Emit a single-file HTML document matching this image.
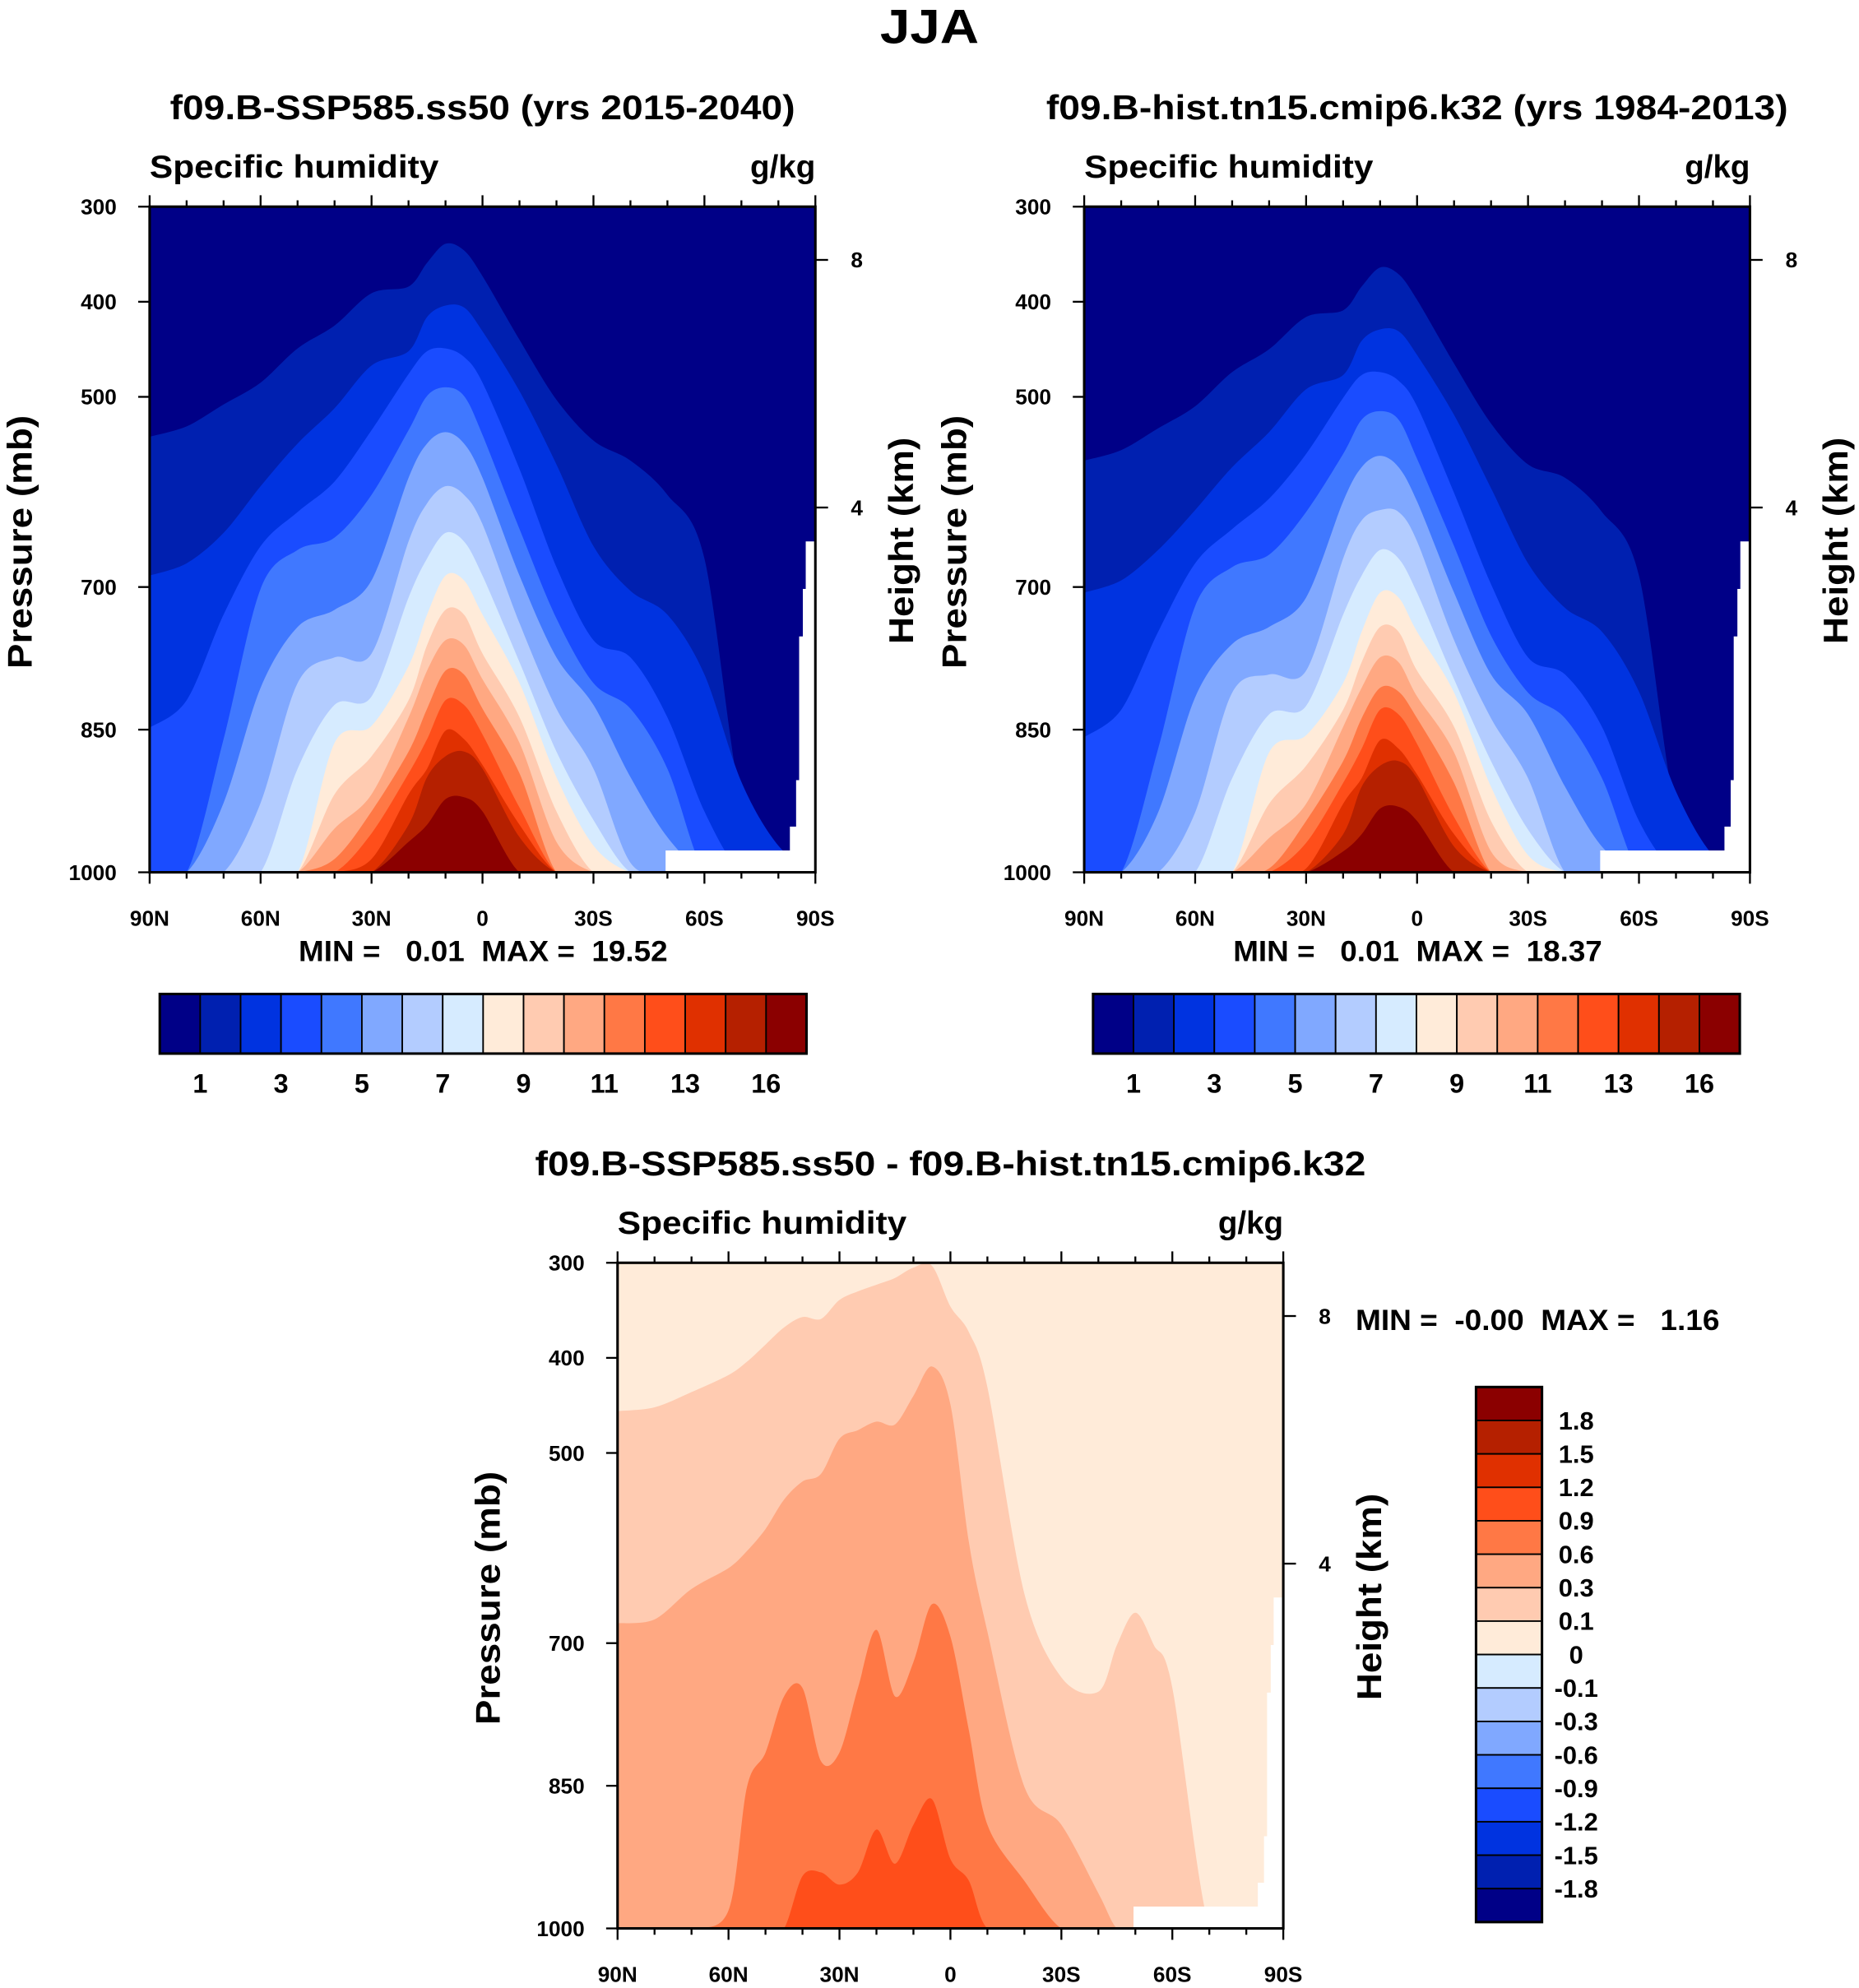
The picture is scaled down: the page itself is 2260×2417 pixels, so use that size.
<!DOCTYPE html>
<html><head><meta charset="utf-8"><style>
html,body{margin:0;padding:0;background:#fff;}
svg{display:block;}
text{font-family:"Liberation Sans",sans-serif;font-weight:bold;fill:#000;white-space:pre;}
</style></head>
<body>
<svg id="fig" width="2260" height="2417" viewBox="0 0 1466 1568" preserveAspectRatio="none" xmlns="http://www.w3.org/2000/svg">
<text x="733" y="34" font-size="38" text-anchor="middle" textLength="78" lengthAdjust="spacingAndGlyphs">JJA</text>
</svg>
<script>
// ---------- data ----------
const colorsAbs = ['#000087','#0020b0','#0033e0','#1a4cff','#4078ff','#80a8ff','#b3ccff','#d6ebff','#ffebd9','#ffcbb1','#ffa882','#ff7845','#ff4e1a','#e03000','#b52000','#8b0000'];
const absLevelLabels = ['1','3','5','7','9','11','13','16'];
const diffLevelLabels = ['1.8','1.5','1.2','0.9','0.6','0.3','0.1','0','-0.1','-0.3','-0.6','-0.9','-1.2','-1.5','-1.8'];
const latTickLabels = ['90N','60N','30N','0','30S','60S','90S'];
const latTicks = [90,60,30,0,-30,-60,-90];
const pressureTicks = [300,400,500,700,850,1000];
const heightTicks = [8,4];

const latsAbs = [90,80,70,60,50,40,30,20,15,10,5,0,-10,-20,-30,-40,-50,-60,-70,-80,-90];
// plot 1: pressure (mb) of the top of each filled level, per latitude
const p1L1 = [542,531,508,485,449,425,391,384,359,339,346,373,440,503,546,567,603,670,927,1000,1000];
const p1L2 = [688,675,643,594,549,512,467,452,416,404,406,431,494,571,657,704,729,792,905,972,1000];
const p1L3 = [848,819,729,657,621,589,535,476,452,449,458,485,576,679,756,774,837,936,1000,1000,1000];
const p1L4 = [1000,1000,860,702,661,648,603,535,499,490,499,540,639,733,801,828,891,1000,1000,1000,1000];
const p1L5 = [1000,1000,927,806,742,724,693,585,549,537,549,585,688,774,824,900,963,1000,1000,1000,1000];
const p1L6 = [1000,1000,1000,927,801,774,770,652,612,594,603,634,738,828,891,990,1000,1000,1000,1000,1000];
const p1L7 = [1000,1000,1000,1000,891,824,815,711,670,643,652,688,779,873,945,1000,1000,1000,1000,1000,1000];
const p1L8 = [1000,1000,1000,1000,1000,864,846,783,729,688,693,729,801,900,972,1000,1000,1000,1000,1000,1000];
const p1L9 = [1000,1000,1000,1000,1000,918,878,819,761,724,729,770,837,936,1000,1000,1000,1000,1000,1000,1000];
const p1L10 = [1000,1000,1000,1000,1000,954,918,837,788,756,761,797,864,968,1000,1000,1000,1000,1000,1000,1000];
const p1L11 = [1000,1000,1000,1000,1000,986,936,873,828,788,792,828,896,1000,1000,1000,1000,1000,1000,1000,1000];
const p1L12 = [1000,1000,1000,1000,1000,1000,959,896,860,819,824,855,932,1000,1000,1000,1000,1000,1000,1000,1000];
const p1L13 = [1000,1000,1000,1000,1000,1000,986,918,891,851,860,887,950,1000,1000,1000,1000,1000,1000,1000,1000];
const p1L14 = [1000,1000,1000,1000,1000,1000,1000,950,900,878,873,891,963,1000,1000,1000,1000,1000,1000,1000,1000];
const p1L15 = [1000,1000,1000,1000,1000,1000,1000,968,950,923,921,936,1000,1000,1000,1000,1000,1000,1000,1000,1000];
// plot 2
const p2L1 = [567,556,533,510,474,450,416,409,384,364,371,398,465,528,571,585,621,688,937,1000,1000];
const p2L2 = [706,693,661,619,574,537,492,477,441,429,431,456,519,596,675,722,747,810,915,982,1000];
const p2L3 = [858,829,747,675,639,607,560,501,477,474,483,510,601,697,774,792,847,946,1000,1000,1000];
const p2L4 = [1000,1000,870,720,679,666,621,560,524,515,524,565,657,751,811,838,901,1000,1000,1000,1000];
const p2L5 = [1000,1000,937,816,760,742,711,610,574,562,574,610,706,792,834,910,973,1000,1000,1000,1000];
const p2L6 = [1000,1000,1000,937,811,792,788,670,630,619,621,652,756,838,901,1000,1000,1000,1000,1000,1000];
const p2L7 = [1000,1000,1000,1000,901,834,825,729,688,661,670,706,797,883,955,1000,1000,1000,1000,1000,1000];
const p2L8 = [1000,1000,1000,1000,1000,874,856,801,747,706,711,747,811,910,982,1000,1000,1000,1000,1000,1000];
const p2L9 = [1000,1000,1000,1000,1000,928,888,829,779,742,747,788,847,946,1000,1000,1000,1000,1000,1000,1000];
const p2L10 = [1000,1000,1000,1000,1000,964,928,847,806,774,779,815,874,978,1000,1000,1000,1000,1000,1000,1000];
const p2L11 = [1000,1000,1000,1000,1000,996,946,883,838,806,810,838,906,1000,1000,1000,1000,1000,1000,1000,1000];
const p2L12 = [1000,1000,1000,1000,1000,1000,969,906,870,829,834,865,942,1000,1000,1000,1000,1000,1000,1000,1000];
const p2L13 = [1000,1000,1000,1000,1000,1000,996,928,901,861,870,897,960,1000,1000,1000,1000,1000,1000,1000,1000];
const p2L14 = [1000,1000,1000,1000,1000,1000,1000,960,910,888,883,901,973,1000,1000,1000,1000,1000,1000,1000,1000];
const p2L15 = [1000,1000,1000,1000,1000,1000,1000,978,960,933,931,946,1000,1000,1000,1000,1000,1000,1000,1000,1000];
// plot 3 (difference)
const latsDiff = [90,80,70,60,55,50,45,40,35,30,25,20,15,10,5,0,-5,-10,-20,-30,-40,-45,-50,-55,-60,-70,-80,-90];
const p3L01 = [456,452,436,418,404,386,368,357,359,339,330,323,316,305,303,346,373,431,648,736,751,702,668,702,747,1000,1000,1000];
const p3L03 = [679,675,643,621,603,580,549,530,522,485,476,467,470,440,409,449,594,688,851,891,963,1000,1000,1000,1000,1000,1000,1000];
const p3L06 = [1000,1000,1000,981,851,815,756,747,824,815,747,686,756,720,659,693,792,891,950,1000,1000,1000,1000,1000,1000,1000,1000,1000];
const p3L09 = [1000,1000,1000,1000,1000,1000,1000,945,941,954,941,896,932,891,864,927,950,1000,1000,1000,1000,1000,1000,1000,1000,1000,1000,1000];
// missing-data (topography) outline
const topoLat = [-49.5,-83.1,-83.1,-84.8,-84.8,-85.6,-85.6,-86.6,-86.6,-87.4,-87.4,-90];
const topoP = [977,977,952,952,903,903,752,752,702,702,652,652];

// ---------- drawing ----------
const NS='http://www.w3.org/2000/svg';
const svg=document.getElementById('fig');
function mk(tag,attrs,parent){const e=document.createElementNS(NS,tag);for(const k in attrs)e.setAttribute(k,attrs[k]);(parent||svg).appendChild(e);return e;}
function txt(s,attrs,parent){const e=mk('text',attrs,parent);e.textContent=s;return e;}
function heightToP(z){return 1013.25*Math.pow(1-2.2558e-5*z*1000,5.2559);}
function smoothPath(pts){
  let d='M'+pts[0][0].toFixed(1)+','+pts[0][1].toFixed(1);
  for(let i=0;i<pts.length-1;i++){
    const p0=pts[Math.max(i-1,0)],p1=pts[i],p2=pts[i+1],p3=pts[Math.min(i+2,pts.length-1)];
    const t=0.16;
    const c1=[p1[0]+(p2[0]-p0[0])*t,p1[1]+(p2[1]-p0[1])*t];
    const c2=[p2[0]-(p3[0]-p1[0])*t,p2[1]-(p3[1]-p1[1])*t];
    d+=' C'+c1[0].toFixed(1)+','+c1[1].toFixed(1)+' '+c2[0].toFixed(1)+','+c2[1].toFixed(1)+' '+p2[0].toFixed(1)+','+p2[1].toFixed(1);
  }
  return d;
}

function drawPlot(id,ox,oy,w,h,lats,bounds,colors,bg,titleStr,titleW){
  const X=lat=>ox+(90-lat)/180*w;
  const Y=p=>oy+(p-300)/700*h;
  const g=mk('g',{});
  
  
  const cp=mk('clipPath',{id:id+'-clip'},g);mk('rect',{x:ox,y:oy,width:w,height:h},cp);
  const area=mk('g',{'clip-path':'url(#'+id+'-clip)'},g);
  const bgr=mk('rect',{x:ox,y:oy,width:w,height:h,fill:bg},area);
  
  
  bounds.forEach((arr,k)=>{
    const pts=arr.map((p,i)=>[X(lats[i]),Y(p)]);
    const d=smoothPath(pts)+' L'+(X(-90)+2)+','+(Y(1000)+5)+' L'+(X(90)-2)+','+(Y(1000)+5)+' Z';
    const poly=mk('path',{d:d,fill:colors[k]},area);
    
    
  });
  let tp=topoLat.map((l,i)=>X(l).toFixed(1)+','+Y(topoP[i]).toFixed(1));
  tp.push(X(-90)+','+Y(1000),X(-49.5)+','+Y(1000));
  const topo=mk('polygon',{points:tp.join(' '),fill:'#fff'},area);
  
  
  const fr=mk('rect',{x:ox,y:oy,width:w,height:h,fill:'none',stroke:'#000','stroke-width':2},g);
  
  
  for(let l=90;l>=-90;l-=10){
    const major=(l%30===0);
    mk('line',{x1:X(l),x2:X(l),y1:oy+h,y2:oy+h+(major?9:5),stroke:'#000','stroke-width':1.5},g);
    mk('line',{x1:X(l),x2:X(l),y1:oy,y2:oy-(major?9:5),stroke:'#000','stroke-width':1.5},g);
  }
  latTicks.forEach((l,i)=>{
    const t=txt(latTickLabels[i],{x:X(l),y:oy+h+42,'font-size':17,'text-anchor':'middle'},g);
    
    
  });
  pressureTicks.forEach(p=>{
    mk('line',{x1:ox-9,x2:ox,y1:Y(p),y2:Y(p),stroke:'#000','stroke-width':1.5},g);
    const t=txt(String(p),{x:ox-26,y:Y(p)+6,'font-size':17,'text-anchor':'end'},g);
    
    
  });
  heightTicks.forEach(z=>{
    const yy=Y(heightToP(z));
    mk('line',{x1:ox+w,x2:ox+w+10,y1:yy,y2:yy,stroke:'#000','stroke-width':1.5},g);
    const t=txt(String(z),{x:ox+w+28,y:yy+6,'font-size':17,'text-anchor':'start'},g);
    
    
  });
  const yt=txt('Pressure (mb)',{x:0,y:0,'font-size':27,'text-anchor':'middle',transform:'translate('+(ox-93)+','+(oy+h/2+2)+') rotate(-90)',textLength:200,lengthAdjust:'spacingAndGlyphs'},g);
  
  
  const ht=txt('Height (km)',{x:0,y:0,'font-size':27,'text-anchor':'middle',transform:'translate('+(ox+w+77)+','+(oy+h/2+1)+') rotate(-90)',textLength:163,lengthAdjust:'spacingAndGlyphs'},g);
  
  
  const sh=txt('Specific humidity',{x:ox,y:oy-23,'font-size':25,textLength:228,lengthAdjust:'spacingAndGlyphs'},g);
  
  
  const un=txt('g/kg',{x:ox+w,y:oy-23,'font-size':25,'text-anchor':'end'},g);
  
  
  const ti=txt(titleStr,{x:ox+w/2,y:oy-69,'font-size':27,'text-anchor':'middle',textLength:titleW,lengthAdjust:'spacingAndGlyphs'},g);
  
  
  return g;
}

const b1=[p1L1,p1L2,p1L3,p1L4,p1L5,p1L6,p1L7,p1L8,p1L9,p1L10,p1L11,p1L12,p1L13,p1L14,p1L15];
const b2=[p2L1,p2L2,p2L3,p2L4,p2L5,p2L6,p2L7,p2L8,p2L9,p2L10,p2L11,p2L12,p2L13,p2L14,p2L15];
drawPlot('panel-ssp585',118,163,525,525,latsAbs,b1,colorsAbs.slice(1),colorsAbs[0],'f09.B-SSP585.ss50 (yrs 2015-2040)',493);
drawPlot('panel-hist',855,163,525,525,latsAbs,b2,colorsAbs.slice(1),colorsAbs[0],'f09.B-hist.tn15.cmip6.k32 (yrs 1984-2013)',585);
drawPlot('panel-difference',487,996,525,525,latsDiff,[p3L01,p3L03,p3L06,p3L09],[colorsAbs[9],colorsAbs[10],colorsAbs[11],colorsAbs[12]],colorsAbs[8],'f09.B-SSP585.ss50 - f09.B-hist.tn15.cmip6.k32',655);

[['MIN =   0.01  MAX =  19.52',381],['MIN =   0.01  MAX =  18.37',1118]].forEach(([s,x])=>{
  const t=txt(s,{x:x,y:758,'font-size':23,'text-anchor':'middle',textLength:291,lengthAdjust:'spacingAndGlyphs'});
  
  
});
const mm=txt('MIN =  -0.00  MAX =   1.16',{x:1069,y:1049,'font-size':23,textLength:287,lengthAdjust:'spacingAndGlyphs'});



[126,862].forEach(x0=>{
  const g=mk('g',{});
  
  
  const bw=(636-126)/16;
  colorsAbs.forEach((c,i)=>{
    const r=mk('rect',{x:x0+i*bw,y:784,width:bw,height:47,fill:c,stroke:'#000','stroke-width':1.2},g);
    
    
  });
  mk('rect',{x:x0,y:784,width:bw*16,height:47,fill:'none',stroke:'#000','stroke-width':2},g);
  absLevelLabels.forEach((s,i)=>{
    const t=txt(s,{x:x0+(1+2*i)*bw,y:862,'font-size':21,'text-anchor':'middle'},g);
    
    
  });
});
(function(){
  const g=mk('g',{});
  
  
  const y0=1094,bh=(1516-1094)/16;
  colorsAbs.slice().reverse().forEach((c,i)=>{
    const r=mk('rect',{x:1164,y:y0+i*bh,width:52,height:bh,fill:c,stroke:'#000','stroke-width':1.2},g);
    
    
  });
  mk('rect',{x:1164,y:y0,width:52,height:bh*16,fill:'none',stroke:'#000','stroke-width':2},g);
  diffLevelLabels.forEach((s,i)=>{
    const t=txt(s,{x:1243,y:y0+(i+1)*bh+7,'font-size':20,'text-anchor':'middle'},g);
    
    
  });
})();
</script>
</body></html>
